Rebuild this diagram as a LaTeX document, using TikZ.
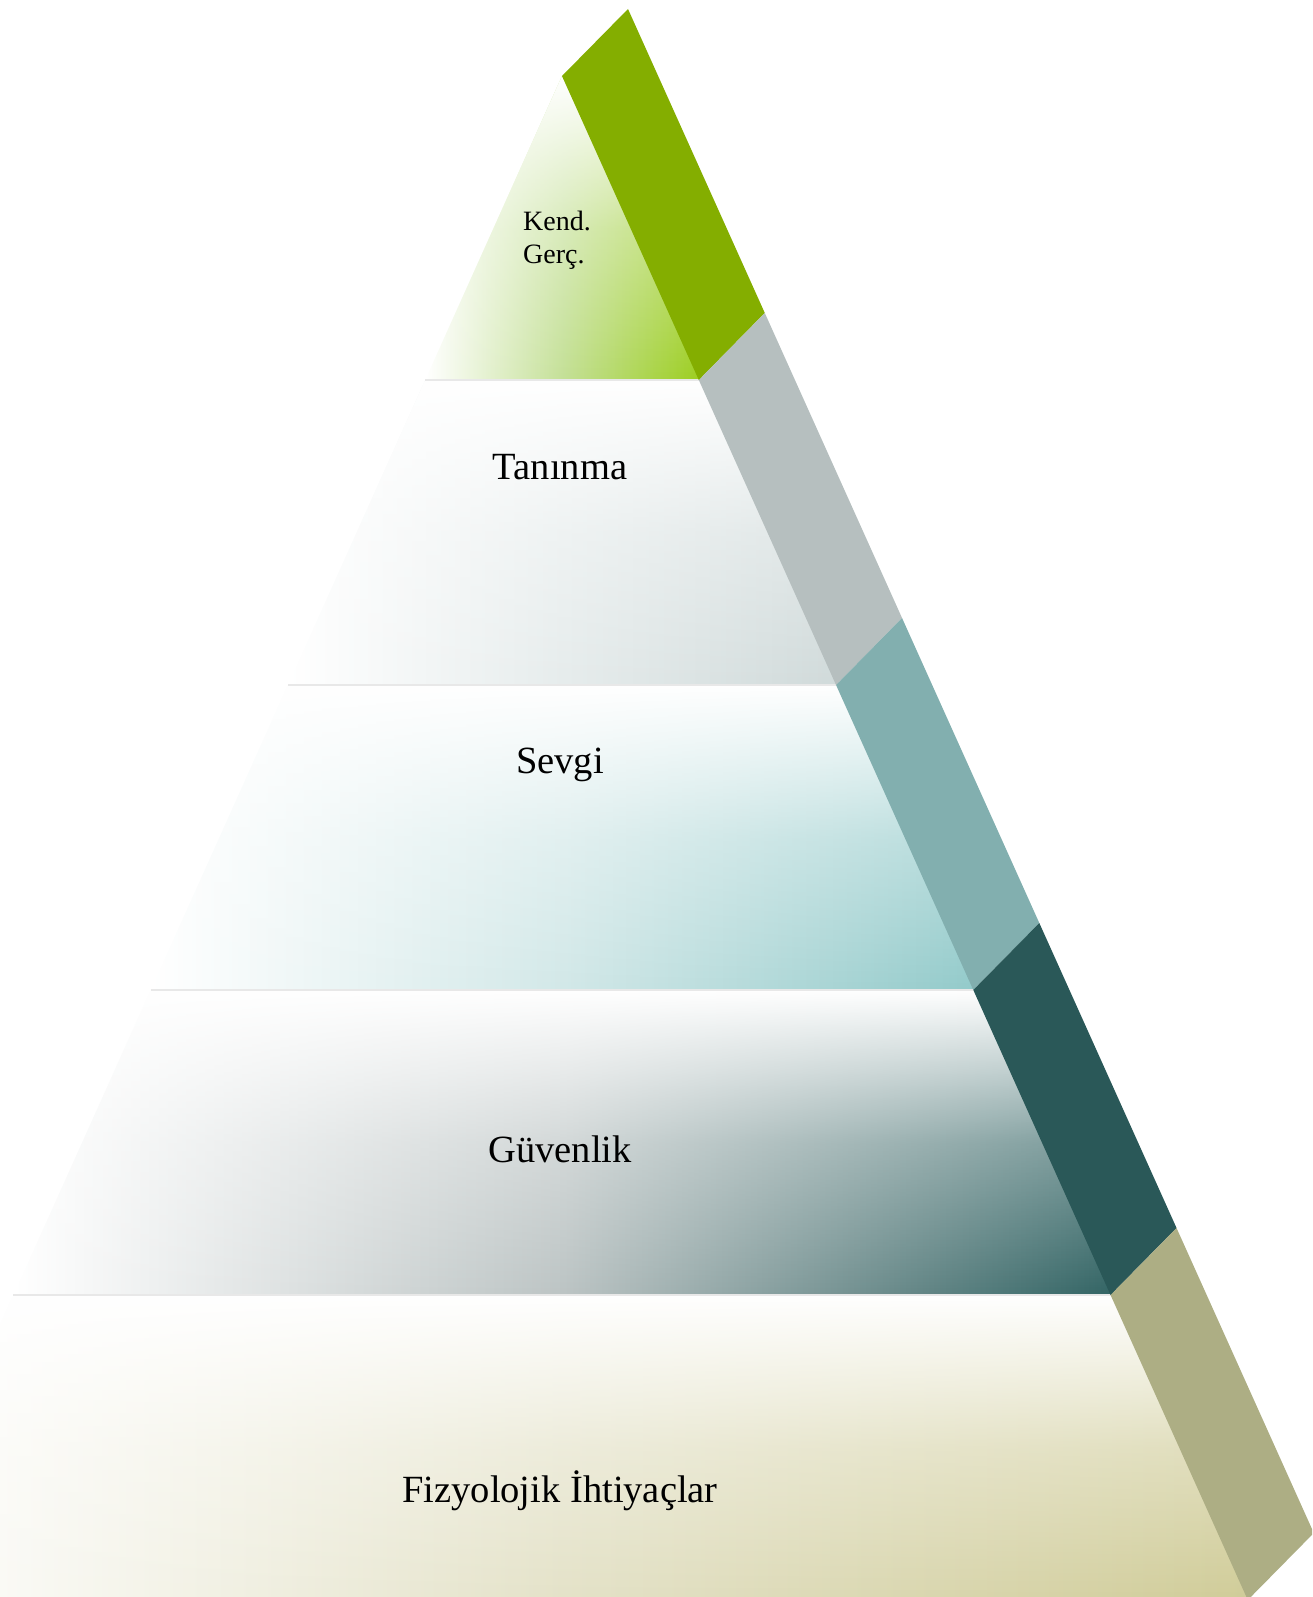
\documentclass[tikz,border=0pt]{standalone}
\usepackage{fontspec}
\setmainfont{Liberation Serif}
\usetikzlibrary{fadings}

\definecolor{bandA}{RGB}{132,174,0}
\definecolor{bandB}{RGB}{182,191,191}
\definecolor{bandC}{RGB}{130,175,175}
\definecolor{bandD}{RGB}{42,88,88}
\definecolor{bandE}{RGB}{173,174,132}
\definecolor{tierA}{RGB}{156,206,30}
\definecolor{tierAm}{RGB}{196,224,150}
\definecolor{tierB}{RGB}{208,218,218}
\definecolor{tierBm}{RGB}{230,236,236}
\definecolor{tierC}{RGB}{146,202,202}
\definecolor{tierCm}{RGB}{210,232,232}
\definecolor{tierD}{RGB}{50,100,100}
\definecolor{tierDm}{RGB}{188,196,196}
\definecolor{tierE}{RGB}{208,204,152}
\definecolor{tierEm}{RGB}{228,226,200}

\tikzfading[name=fadedown, top color=transparent!0, bottom color=transparent!100, middle color=transparent!65]

\tikzstyle{lbl}=[anchor=base, inner sep=0pt, font=\fontsize{38.5}{44}\selectfont]
\tikzstyle{smalllbl}=[anchor=base west, inner sep=0pt, font=\fontsize{28}{32}\selectfont]
\tikzstyle{sep}=[draw=gray!18, line width=1.5pt]
\tikzstyle{whiteout}=[fill=white, path fading=fadedown]

\begin{document}
\begin{tikzpicture}[x=1pt,y=-1pt]
		\useasboundingbox (0,0) rectangle (1312,1597);
		\clip (0,0) rectangle (1312,1597);
		% corners of the pyramid, left and right
		\coordinate (top) at (562,76);
		\coordinate (l1) at (425.2,380);   \coordinate (r1) at (698.8,380);
		\coordinate (l2) at (287.95,685);  \coordinate (r2) at (836.05,685);
		\coordinate (l3) at (150.7,990);   \coordinate (r3) at (973.3,990);
		\coordinate (l4) at (13.45,1295);  \coordinate (r4) at (1110.55,1295);
		\coordinate (l5) at (-123.8,1600); \coordinate (r5) at (1247.8,1600);
		% outer edge of the band
		\coordinate (b0) at (628,9);
		\coordinate (b1) at (764.8,313);
		\coordinate (b2) at (902.05,618);
		\coordinate (b3) at (1039.3,923);
		\coordinate (b4) at (1176.55,1228);
		\coordinate (b5) at (1313.8,1533);
		% tiers (right side tucked a little under the band)
		\shade[left color=white, right color=tierA, middle color=tierAm] (top) -- ([xshift=4]r1) -- (l1) -- cycle;
		\fill[whiteout] (top) -- ([xshift=4]r1) -- (l1) -- cycle;
		\shade[left color=white, right color=tierB, middle color=tierBm] (l1) -- ([xshift=4]r1) -- ([xshift=4]r2) -- (l2) -- cycle;
		\fill[whiteout] (l1) -- ([xshift=4]r1) -- ([xshift=4]r2) -- (l2) -- cycle;
		\shade[left color=white, right color=tierC, middle color=tierCm] (l2) -- ([xshift=4]r2) -- ([xshift=4]r3) -- (l3) -- cycle;
		\fill[whiteout] (l2) -- ([xshift=4]r2) -- ([xshift=4]r3) -- (l3) -- cycle;
		\shade[left color=white, right color=tierD, middle color=tierDm] (l3) -- ([xshift=4]r3) -- ([xshift=4]r4) -- (l4) -- cycle;
		\fill[whiteout] (l3) -- ([xshift=4]r3) -- ([xshift=4]r4) -- (l4) -- cycle;
		\shade[left color=white, right color=tierE, middle color=tierEm] (l4) -- ([xshift=4]r4) -- ([xshift=4]r5) -- (l5) -- cycle;
		\fill[whiteout] (l4) -- ([xshift=4]r4) -- ([xshift=4]r5) -- (l5) -- cycle;
		\draw[sep] (l1) -- (r1);
		\draw[sep] (l2) -- (r2);
		\draw[sep] (l3) -- (r3);
		\draw[sep] (l4) -- (r4);
		% band
		\fill[bandA] (top) -- (b0) -- (b1) -- (r1) -- cycle;
		\fill[bandB] (r1) -- (b1) -- (b2) -- (r2) -- cycle;
		\fill[bandC] (r2) -- (b2) -- (b3) -- (r3) -- cycle;
		\fill[bandD] (r3) -- (b3) -- (b4) -- (r4) -- cycle;
		\fill[bandE] (r4) -- (b4) -- (b5) -- (r5) -- cycle;
		% labels
		\node[smalllbl] (kend) at (523,231) {Kend.};
		\node[smalllbl] (gerc) at (523,263) {Gerç.};
		\node[lbl] (taninma) at (560,479) {Tanınma};
		\node[lbl] (sevgi) at (560,773) {Sevgi};
		\node[lbl] (guvenlik) at (560,1162) {Güvenlik};
		\node[lbl] (fizyolojik) at (560,1502) {Fizyolojik İhtiyaçlar};
\end{tikzpicture}
\end{document}
